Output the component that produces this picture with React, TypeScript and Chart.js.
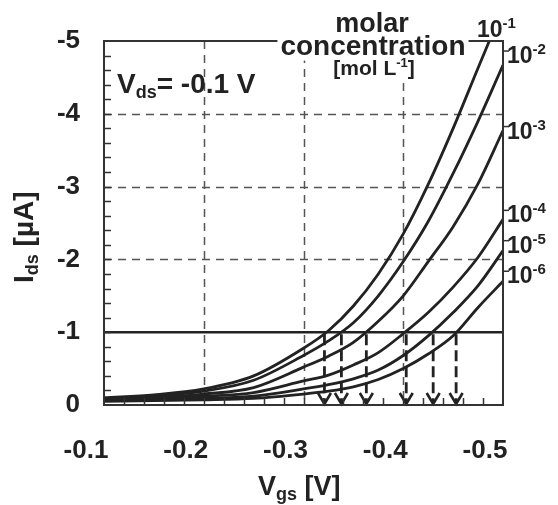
import { useEffect, useRef } from 'react';
import { Chart, registerables } from 'chart.js';

Chart.register(...registerables);

// ---- data ----
const VGS = [-0.1, -0.15, -0.2, -0.25, -0.3, -0.325, -0.35, -0.375, -0.4, -0.425, -0.45, -0.475, -0.5];
const IDS_1E_1 = [-0.1, -0.14, -0.22, -0.4, -0.78, -1.02, -1.36, -1.8, -2.35, -3.03, -3.8, -4.63, -5.45];
const IDS_1E_2 = [-0.09, -0.12, -0.19, -0.34, -0.68, -0.88, -1.13, -1.5, -1.97, -2.52, -3.18, -3.9, -4.67];
const IDS_1E_3 = [-0.08, -0.1, -0.15, -0.24, -0.52, -0.67, -0.86, -1.15, -1.5, -1.97, -2.45, -3.04, -3.77];
const IDS_1E_4 = [-0.07, -0.09, -0.12, -0.17, -0.33, -0.41, -0.55, -0.72, -0.98, -1.27, -1.62, -2.03, -2.55];
const IDS_1E_5 = [-0.06, -0.07, -0.09, -0.12, -0.22, -0.28, -0.36, -0.48, -0.68, -0.95, -1.27, -1.64, -2.12];
const IDS_1E_6 = [-0.05, -0.06, -0.07, -0.09, -0.15, -0.19, -0.25, -0.35, -0.5, -0.7, -0.95, -1.34, -1.7];
const SERIES = [IDS_1E_1, IDS_1E_2, IDS_1E_3, IDS_1E_4, IDS_1E_5, IDS_1E_6];
const CONC_EXPONENTS = ['-1', '-2', '-3', '-4', '-5', '-6'];

const THRESHOLD_IDS = -1;
const THRESHOLD_VGS = [-0.321, -0.338, -0.363, -0.403, -0.43, -0.453];

const X_MIN = -0.5;
const X_MAX = -0.1;
const X_STEP = 0.1;
const X_MINOR_STEP = 0.02;
const Y_MIN = -5;
const Y_MAX = 0;
const Y_STEP = 1;
const Y_MINOR_STEP = 0.2;

const VDS_LABEL = '-0.1';

// ---- styling ----
const FONT = '"Liberation Sans", Arial, Helvetica, sans-serif';
const INK = '#222';

type Part = { t: string; size: number; dy?: number; bold?: boolean };

function fontOf(p: Part) {
  return `${p.bold === false ? 'normal' : 'bold'} ${p.size}px ${FONT}`;
}

function partsWidth(ctx: CanvasRenderingContext2D, parts: Part[]) {
  let w = 0;
  for (const p of parts) {
    ctx.font = fontOf(p);
    w += ctx.measureText(p.t).width;
  }
  return w;
}

function drawParts(
  ctx: CanvasRenderingContext2D,
  x: number,
  y: number,
  parts: Part[],
  align: 'left' | 'center' = 'left',
  bg = false
) {
  const w = partsWidth(ctx, parts);
  let cx = align === 'center' ? x - w / 2 : x;
  if (bg) {
    const maxSize = Math.max(...parts.map((p) => p.size));
    ctx.save();
    ctx.fillStyle = '#fff';
    ctx.fillRect(cx - 3, y - maxSize * 0.78, w + 6, maxSize * 0.98);
    ctx.restore();
  }
  ctx.textAlign = 'left';
  ctx.textBaseline = 'alphabetic';
  ctx.fillStyle = INK;
  for (const p of parts) {
    ctx.font = fontOf(p);
    ctx.fillText(p.t, cx, y + (p.dy || 0));
    cx += ctx.measureText(p.t).width;
  }
}

const decorPlugin = {
  id: 'decor',
  beforeDraw(chart: any) {
    const { ctx, width, height } = chart;
    ctx.save();
    ctx.fillStyle = '#fff';
    ctx.fillRect(0, 0, width, height);
    ctx.restore();
  },
  beforeDatasetsDraw(chart: any) {
    const { ctx, chartArea: a, scales } = chart;
    const xs = scales.x;
    const ys = scales.y;
    ctx.save();
    // dashed grid at interior major ticks
    ctx.strokeStyle = '#555';
    ctx.lineWidth = 1.5;
    ctx.setLineDash([8, 6]);
    for (const t of xs.ticks) {
      if (Math.abs(t.value - X_MIN) < 1e-9 || Math.abs(t.value - X_MAX) < 1e-9) continue;
      const px = Math.round(xs.getPixelForValue(t.value)) + 0.5;
      ctx.beginPath();
      ctx.moveTo(px, a.top);
      ctx.lineTo(px, a.bottom);
      ctx.stroke();
    }
    for (const t of ys.ticks) {
      if (t.value === Y_MIN || t.value === Y_MAX || t.value === THRESHOLD_IDS) continue;
      const py = Math.round(ys.getPixelForValue(t.value)) + 0.5;
      ctx.beginPath();
      ctx.moveTo(a.left, py);
      ctx.lineTo(a.right, py);
      ctx.stroke();
    }
    // threshold line
    ctx.setLineDash([]);
    ctx.strokeStyle = INK;
    ctx.lineWidth = 2.5;
    const ty = ys.getPixelForValue(THRESHOLD_IDS);
    ctx.beginPath();
    ctx.moveTo(a.left, ty);
    ctx.lineTo(a.right, ty);
    ctx.stroke();
    // arrows down to the axis
    const y0 = ys.getPixelForValue(0);
    for (const v of THRESHOLD_VGS) {
      const px = xs.getPixelForValue(v);
      ctx.setLineDash([11, 5]);
      ctx.lineWidth = 2.8;
      ctx.beginPath();
      ctx.moveTo(px, ty + 2);
      ctx.lineTo(px, y0 - 3);
      ctx.stroke();
      ctx.setLineDash([]);
      ctx.lineWidth = 2.6;
      ctx.beginPath();
      ctx.moveTo(px - 6.5, y0 - 12);
      ctx.lineTo(px, y0 - 1);
      ctx.lineTo(px + 6.5, y0 - 12);
      ctx.stroke();
    }
    ctx.restore();
  },
  afterDatasetsDraw(chart: any) {
    const { ctx, chartArea: a, scales } = chart;
    const xs = scales.x;
    const ys = scales.y;
    ctx.save();
    // frame
    ctx.strokeStyle = '#333';
    ctx.lineWidth = 2;
    ctx.setLineDash([]);
    ctx.strokeRect(a.left, a.top, a.right - a.left, a.bottom - a.top);
    // minor ticks (inside)
    ctx.lineWidth = 1.5;
    const nY = Math.round((Y_MAX - Y_MIN) / Y_MINOR_STEP);
    for (let i = 1; i < nY; i++) {
      const py = Math.round(ys.getPixelForValue(Y_MIN + i * Y_MINOR_STEP)) + 0.5;
      ctx.beginPath();
      ctx.moveTo(a.left, py);
      ctx.lineTo(a.left + 7, py);
      ctx.stroke();
    }
    const nX = Math.round((X_MAX - X_MIN) / X_MINOR_STEP);
    for (let i = 1; i < nX; i++) {
      const px = Math.round(xs.getPixelForValue(X_MIN + i * X_MINOR_STEP)) + 0.5;
      ctx.beginPath();
      ctx.moveTo(px, a.bottom);
      ctx.lineTo(px, a.bottom - 7);
      ctx.stroke();
    }

    // legend-like header text (white background hides the frame)
    const cxText = a.left + 268;
    drawParts(ctx, cxText, a.top - 9, [{ t: 'molar', size: 27 }], 'center');
    drawParts(ctx, cxText + 1, a.top + 14, [{ t: 'concentration', size: 28 }], 'center', true);
    drawParts(
      ctx,
      cxText + 2,
      a.top + 34,
      [
        { t: '[mol L', size: 21 },
        { t: '-1', size: 13, dy: -8 },
        { t: ']', size: 21 },
      ],
      'center',
      true
    );

    // concentration labels at the curve ends
    const LABEL_DY = [0, -10, 0, -5, -6, -6];
    SERIES.forEach((s, i) => {
      const parts: Part[] = [
        { t: '10', size: 23 },
        { t: CONC_EXPONENTS[i], size: 15, dy: -9 },
      ];
      if (i === 0) {
        drawParts(ctx, a.right - 26, a.top - 4, parts);
        return;
      }
      const base = ys.getPixelForValue(s[s.length - 1]) + 8 + LABEL_DY[i];
      drawParts(ctx, a.right + 4, base, parts);
      ctx.strokeStyle = '#333';
      ctx.lineWidth = 1.5;
      ctx.beginPath();
      ctx.moveTo(a.right, base - 12);
      ctx.lineTo(a.right + 6, base - 12);
      ctx.stroke();
    });

    // V_ds annotation
    drawParts(ctx, a.left + 13, a.top + 52, [
      { t: 'V', size: 28 },
      { t: 'ds', size: 18, dy: 5 },
      { t: '= ' + VDS_LABEL + ' V', size: 28 },
    ]);

    // axis titles
    drawParts(ctx, 258, 495, [
      { t: 'V', size: 27 },
      { t: 'gs', size: 18, dy: 5 },
      { t: ' [V]', size: 27 },
    ]);
    ctx.save();
    ctx.translate(33, 283);
    ctx.rotate(-Math.PI / 2);
    drawParts(ctx, 0, 0, [
      { t: 'I', size: 28 },
      { t: 'ds', size: 18, dy: 5 },
      { t: ' [\u00b5A]', size: 28 },
    ]);
    ctx.restore();
    ctx.restore();
  },
};

export default function App() {
  const ref = useRef<HTMLCanvasElement | null>(null);
  useEffect(() => {
    if (!ref.current) return;
    const chart = new Chart(ref.current, {
      type: 'line',
      data: {
        datasets: SERIES.map((s, i) => ({
          label: '10^' + CONC_EXPONENTS[i],
          data: VGS.map((v, j) => ({ x: v, y: s[j] })),
          borderColor: INK,
          borderWidth: 2.8,
          pointRadius: 0,
          cubicInterpolationMode: 'monotone' as const,
          fill: false,
        })),
      },
      options: {
        animation: false,
        responsive: false,
        maintainAspectRatio: false,
        devicePixelRatio: 1,
        layout: { padding: { left: 0, top: 41, right: 55, bottom: 0 } },
        plugins: { legend: { display: false }, tooltip: { enabled: false } },
        scales: {
          x: {
            type: 'linear',
            min: X_MIN,
            max: X_MAX,
            reverse: true,
            grid: { display: false, drawTicks: false },
            border: { display: false },
            ticks: {
              stepSize: X_STEP,
              padding: 30,
              labelOffset: -18,
              autoSkip: false,
              maxRotation: 0,
              color: INK,
              font: { family: FONT, size: 26, weight: 'bold' },
              callback: (v: any) => Number(v).toFixed(1),
            },
            afterFit: (s: any) => {
              s.height = 100;
            },
          },
          y: {
            type: 'linear',
            min: Y_MIN,
            max: Y_MAX,
            reverse: true,
            grid: { display: false, drawTicks: false },
            border: { display: false },
            ticks: {
              stepSize: Y_STEP,
              padding: 24,
              autoSkip: false,
              color: INK,
              font: { family: FONT, size: 26, weight: 'bold' },
              callback: (v: any) => String(Math.round(Number(v))),
            },
            afterFit: (s: any) => {
              s.width = 104;
            },
          },
        },
      },
      plugins: [decorPlugin],
    } as any);
    return () => chart.destroy();
  }, []);
  return (
    <div style={{ position: 'absolute', left: 0, top: 0, width: 558, height: 505, background: '#fff' }}>
      <canvas ref={ref} width={558} height={505} style={{ display: 'block', width: 558, height: 505 }} />
    </div>
  );
}
